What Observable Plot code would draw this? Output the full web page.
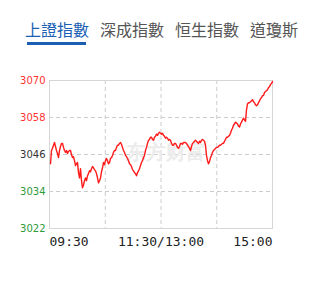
<!DOCTYPE html>
<html><head><meta charset="utf-8">
<script src="https://cdn.jsdelivr.net/npm/d3@7"></script>
<script src="https://cdn.jsdelivr.net/npm/@observablehq/plot@0.6"></script>
<style>
body{margin:0;background:#fff;width:324px;height:282px;overflow:hidden;font-family:"Noto Sans CJK TC","Noto Sans CJK SC",sans-serif}
#tabs{position:relative;height:60px;display:flex;gap:11px;padding-left:25px;box-sizing:border-box}
.tab{position:relative;margin-top:21px;font-size:16px;line-height:16px;height:16px;color:#555;white-space:nowrap}
.tab.active{color:#1a5fb4}
.tab.active::after{content:"";position:absolute;left:2px;width:59px;top:21px;height:3px;background:#1a5fb4}
#chart svg{display:block}
</style></head><body>
<div id="tabs"></div>
<div id="chart"></div>
<script>
const tabs = ["上證指數", "深成指數", "恒生指數", "道瓊斯"];
const activeTab = "上證指數";
const watermark = "东方财富";
const prevClose = 3046;
const yTicks = [3022, 3034, 3046, 3058, 3070];
const xTickMinutes = [0, 120, 240];
const xTickLabels = ["09:30", "11:30/13:00", "15:00"];
const xGridMinutes = [60, 120, 180];
const totalMinutes = 240;
const values = [
3043.0,3047.3,3048.0,3049.0,3049.9,3048.6,3047.3,3046.3,3045.0,3047.3,
3048.6,3049.6,3049.6,3048.3,3047.3,3046.7,3047.3,3046.3,3047.0,3047.3,
3047.3,3046.0,3045.0,3045.3,3044.0,3042.4,3043.0,3043.4,3040.1,3038.4,
3041.4,3037.5,3035.2,3036.1,3037.5,3038.4,3037.5,3039.1,3039.8,3040.7,
3040.4,3041.4,3042.1,3041.7,3041.1,3040.7,3039.8,3038.4,3036.8,3037.5,
3038.4,3040.4,3041.7,3043.4,3042.7,3044.0,3044.7,3044.0,3043.0,3043.4,
3044.7,3045.0,3045.7,3046.7,3047.3,3047.3,3048.3,3049.0,3049.0,3049.6,
3049.9,3049.3,3048.3,3047.3,3046.7,3045.7,3045.3,3044.7,3044.0,3043.0,
3042.7,3042.1,3041.1,3040.7,3040.1,3039.8,3039.1,3040.1,3040.7,3041.4,
3042.4,3043.4,3044.0,3045.0,3045.7,3047.3,3048.3,3049.6,3050.6,3050.9,
3051.6,3051.6,3050.9,3050.6,3051.6,3051.9,3052.6,3052.2,3052.9,3053.2,
3052.9,3052.6,3052.9,3052.2,3051.9,3051.3,3051.6,3051.3,3050.6,3050.9,
3050.6,3049.6,3049.0,3049.0,3049.6,3049.6,3049.0,3048.3,3048.0,3048.6,
3049.6,3049.6,3049.3,3049.9,3049.9,3049.9,3049.6,3049.0,3048.6,3048.0,
3047.3,3048.6,3049.6,3049.9,3050.3,3050.6,3050.3,3049.9,3049.6,3050.3,
3049.9,3050.6,3050.9,3050.6,3050.3,3049.0,3045.7,3044.0,3043.0,3043.7,
3045.0,3045.7,3046.7,3047.3,3047.6,3048.0,3048.3,3048.3,3048.6,3049.0,
3049.0,3049.3,3049.6,3049.6,3050.3,3050.9,3051.6,3051.6,3051.9,3052.2,
3052.9,3053.9,3054.5,3055.5,3055.9,3056.5,3056.2,3055.9,3055.2,3054.9,
3055.9,3056.5,3057.2,3057.8,3057.2,3056.8,3060.5,3062.4,3062.8,3062.8,
3063.1,3063.4,3063.8,3063.1,3062.8,3062.1,3061.8,3062.1,3062.8,3063.4,
3064.1,3064.4,3065.1,3065.1,3066.1,3066.4,3066.7,3067.0,3067.7,3068.0,
3068.7,3069.0,3069.7
];

const tabsEl = document.getElementById("tabs");
for (const t of tabs) {
  const s = document.createElement("span");
  s.className = "tab" + (t === activeTab ? " active" : "");
  s.textContent = t;
  tabsEl.appendChild(s);
}

const data = values.map((v, i) => ({t: (i + 1) * totalMinutes / values.length, v}));
const tickColor = d => d > prevClose ? "#ff3333" : d < prevClose ? "#2e9a3a" : "#333333";
const grid = {stroke: "#cccccc", strokeOpacity: 1, strokeDasharray: "4,3"};
const xLabelStyle = {frameAnchor: "bottom", dy: 13, lineAnchor: "middle", fontSize: 13, fontFamily: "DejaVu Sans Mono", fill: "#222"};
const anchors = ["start", "middle", "end"];

const chart = Plot.plot({
  width: 324,
  height: 200,
  marginTop: 20,
  marginBottom: 32,
  marginLeft: 49,
  marginRight: 52,
  x: {domain: [0, totalMinutes], axis: null},
  y: {domain: [yTicks[0], yTicks[yTicks.length - 1]], axis: null},
  marks: [
    Plot.gridY(yTicks.slice(1, -1), grid),
    Plot.gridX(xGridMinutes, grid),
    Plot.frame({stroke: "#d6d6d6"}),
    Plot.text([watermark], {frameAnchor: "middle", dx: 5, dy: -2, fill: "#ececec", fontSize: 20, fontWeight: "bold"}),
    Plot.line(data, {x: "t", y: "v", stroke: "#ff1a1a", strokeWidth: 1.4}),
    Plot.text(yTicks, {y: d => d, text: d => String(d), frameAnchor: "left", textAnchor: "end", dx: -4, fill: tickColor, fontSize: 10, fontFamily: "DejaVu Sans"}),
    ...xTickMinutes.map((m, i) => Plot.text([xTickLabels[i]], {x: () => m, textAnchor: anchors[i], ...xLabelStyle}))
  ]
});
document.getElementById("chart").appendChild(chart);
</script>
</body></html>
